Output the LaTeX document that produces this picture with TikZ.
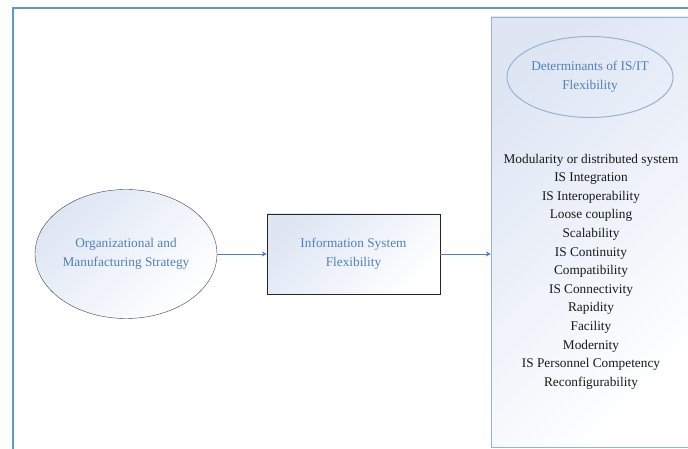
\documentclass[tikz,border=0pt]{standalone}
\usepackage{fontspec}
\setmainfont{Liberation Serif}
\usepackage{tikz}
\usetikzlibrary{arrows.meta}
\usetikzlibrary{shapes.geometric}
\definecolor{FrameBlue}{RGB}{91,155,213}
\definecolor{TextBlue}{RGB}{79,129,189}
\definecolor{PanelLine}{RGB}{149,179,215}
\definecolor{ShadeBlue}{RGB}{222,230,244}
\newcommand{\FXFont}{\fontsize{13.3}{19.3}\selectfont}
\newcommand{\FXListFont}{\fontsize{13.3}{18.6}\selectfont}
\tikzset{
  fxshade/.style={top color=ShadeBlue, bottom color=white, shading angle=45},
  fxellipse/.style={ellipse, draw=black!75, fxshade, text=TextBlue, align=center, font=\FXFont, inner sep=0pt},
  fxbox/.style={rectangle, draw=black!85, fxshade, text=TextBlue, align=center, font=\FXFont},
  fxarrow/.style={draw=TextBlue, line width=0.9pt, -{Stealth[length=5pt,width=5pt]}},
}

\begin{document}
\begin{tikzpicture}[x=1pt,y=1pt]
\useasboundingbox (0,0) rectangle (688,449);

\draw[FrameBlue, line width=2pt] (13,0) -- (13,441) -- (688,441);

\node[rectangle, draw=PanelLine, fxshade, minimum width=200pt, minimum height=430pt, inner sep=0pt] (panel) at (591,217) {};
\node[ellipse, draw=PanelLine, line width=1pt, minimum width=156pt, minimum height=81pt, inner sep=0pt, text=TextBlue, align=center, font=\FXFont] (determinants) at (590,372) {Determinants of IS/IT\\Flexibility};
\node[align=center, font=\FXListFont, text=black!90] (factors) at (591,177.5) {Modularity or distributed system\\IS Integration\\IS Interoperability\\Loose coupling\\Scalability\\IS Continuity\\Compatibility\\IS Connectivity\\Rapidity\\Facility\\Modernity\\IS Personnel Competency\\Reconfigurability};

\node[fxellipse, minimum width=182pt, minimum height=129pt] (strategy) at (126,195) {Organizational and\\Manufacturing Strategy};
\node[fxbox, minimum width=173pt, minimum height=80pt] (isflex) at (353.5,195) {Information System\\Flexibility};

\draw[fxarrow] (strategy.east) -- (isflex.west);
\draw[fxarrow] (isflex.east) -- (isflex.east -| panel.west);
\end{tikzpicture}
\end{document}
